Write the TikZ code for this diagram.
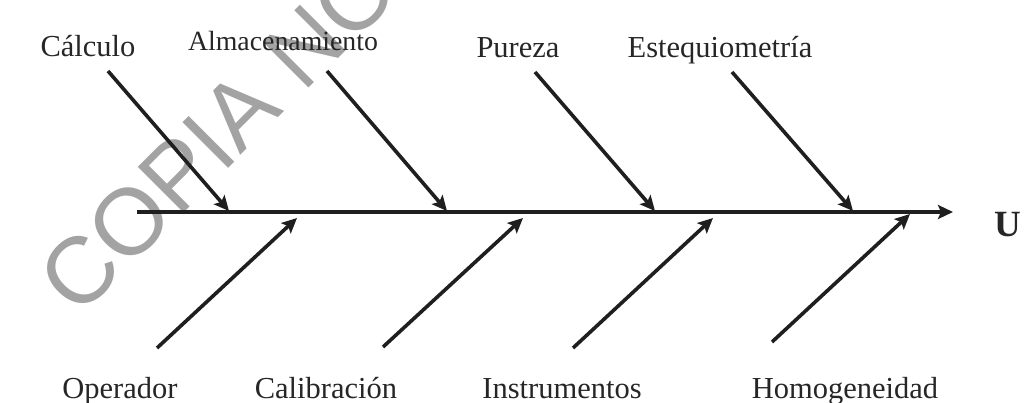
\documentclass[tikz,border=0pt]{standalone}
\usepackage{fontspec}
\setmainfont{Liberation Serif}
\newfontfamily\wmfont{Liberation Sans}
\usetikzlibrary{arrows.meta}
\begin{document}
\begin{tikzpicture}[x=1pt,y=1pt,
  bone/.style={line width=3.6pt,color=black!88,-{Stealth[length=15pt,width=14pt,inset=3pt]}},
  lbl/.style={anchor=base,inner sep=0pt,font=\fontsize{30.5}{36}\selectfont,text=black!85},
  wm/.style={inner sep=0pt,font=\wmfont\fontsize{94}{100}\selectfont,text=black!36}]
\useasboundingbox (0,0) rectangle (1028,-402);
\begin{scope}
\clip (0,0) rectangle (1028,-402);
\node[wm,rotate=45] (wm) at (218,-133) {COPIA NO};
\end{scope}
% spine
\coordinate (s0) at (137,-212);
\coordinate (s1) at (953,-212);
% top branch points
\coordinate (t1a) at (108,-71);  \coordinate (t1b) at (229,-211);
\coordinate (t2a) at (327,-71);  \coordinate (t2b) at (447,-211);
\coordinate (t3a) at (535,-72);  \coordinate (t3b) at (655,-211);
\coordinate (t4a) at (732,-72);  \coordinate (t4b) at (853,-211);
% bottom branch points
\coordinate (b1a) at (157,-348); \coordinate (b1b) at (297,-218);
\coordinate (b2a) at (383,-347); \coordinate (b2b) at (523,-218);
\coordinate (b3a) at (573,-348); \coordinate (b3b) at (713,-218);
\coordinate (b4a) at (772,-342); \coordinate (b4b) at (910,-214);
\draw[bone] (s0) -- (s1);
\foreach \p in {t1,t2,t3,t4,b1,b2,b3,b4} \draw[bone] (\p a) -- (\p b);
% labels
\node[lbl] (calc) at (88,-56) {Cálculo};
\node[lbl,font=\fontsize{27.8}{33}\selectfont] (alma) at (283,-50) {Almacenamiento};
\node[lbl] (pure) at (518,-57) {Pureza};
\node[lbl] (este) at (720,-57) {Estequiometría};
\node[lbl] (oper) at (120,-398) {Operador};
\node[lbl] (cali) at (326,-398) {Calibración};
\node[lbl] (inst) at (562,-398) {Instrumentos};
\node[lbl] (homo) at (845,-398) {Homogeneidad};
\node[lbl,font=\bfseries\fontsize{37}{40}\selectfont] (U) at (1008,-236) {U};
\end{tikzpicture}
\end{document}
